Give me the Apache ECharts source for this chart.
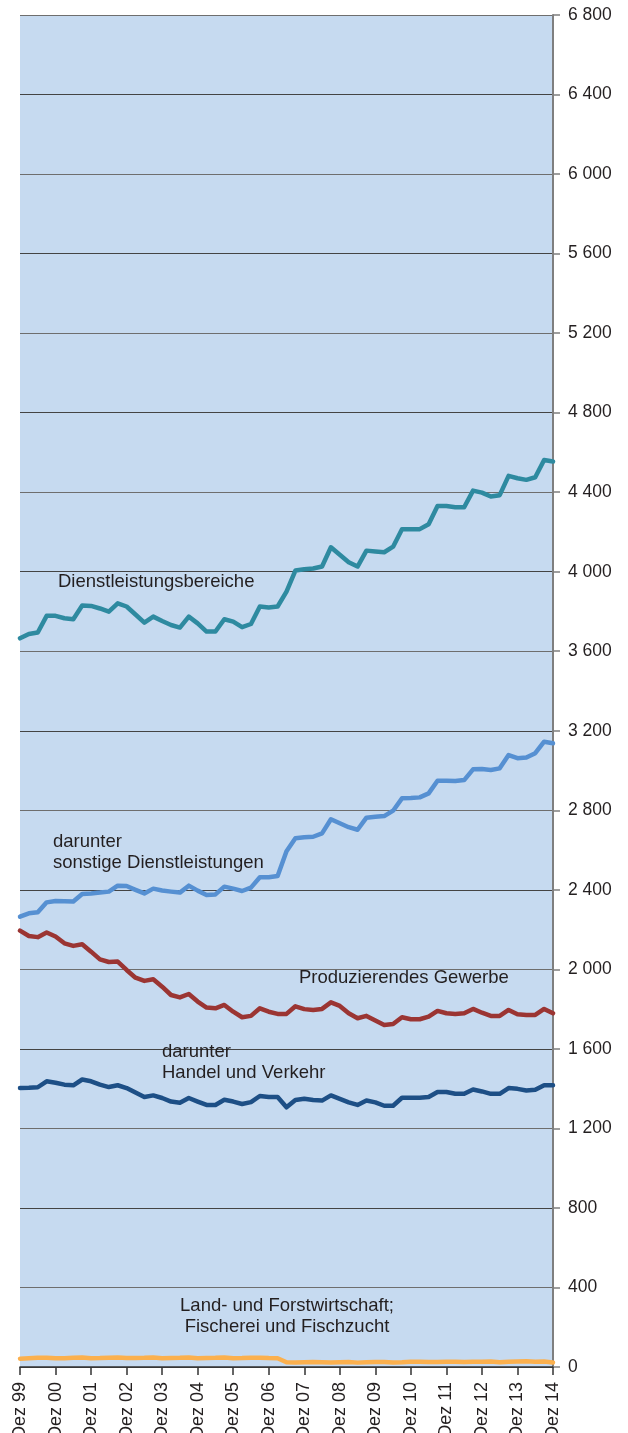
<!DOCTYPE html>
<html>
<head>
	<meta charset="utf-8">
	<title>Erwerbstätige nach Wirtschaftsbereichen</title>
	<script src="https://cdn.jsdelivr.net/npm/echarts@6/dist/echarts.min.js"></script>
	<style>
		html, body { margin: 0; padding: 0; background: #fff; }
		#main { width: 628px; height: 1433px; }
	</style>
</head>
<body>
	<div id="main"></div>
	<script>
		// Quartale Dez 99 bis Dez 14
		var categories = [
			'Dez 99', 'Mär 00', 'Jun 00', 'Sep 00', 'Dez 00', 'Mär 01', 'Jun 01', 'Sep 01', 'Dez 01',
			'Mär 02', 'Jun 02', 'Sep 02', 'Dez 02', 'Mär 03', 'Jun 03', 'Sep 03', 'Dez 03',
			'Mär 04', 'Jun 04', 'Sep 04', 'Dez 04', 'Mär 05', 'Jun 05', 'Sep 05', 'Dez 05',
			'Mär 06', 'Jun 06', 'Sep 06', 'Dez 06', 'Mär 07', 'Jun 07', 'Sep 07', 'Dez 07',
			'Mär 08', 'Jun 08', 'Sep 08', 'Dez 08', 'Mär 09', 'Jun 09', 'Sep 09', 'Dez 09',
			'Mär 10', 'Jun 10', 'Sep 10', 'Dez 10', 'Mär 11', 'Jun 11', 'Sep 11', 'Dez 11',
			'Mär 12', 'Jun 12', 'Sep 12', 'Dez 12', 'Mär 13', 'Jun 13', 'Sep 13', 'Dez 13',
			'Mär 14', 'Jun 14', 'Sep 14', 'Dez 14'
		];

		var dienstleistungen = [
			3665, 3687, 3694, 3778, 3778, 3766, 3761, 3830, 3828, 3815,
			3799, 3841, 3825, 3785, 3744, 3774, 3752, 3732, 3719, 3774,
			3740, 3699, 3699, 3761, 3749, 3721, 3737, 3825, 3820, 3825,
			3900, 4006, 4012, 4016, 4026, 4123, 4085, 4048, 4026, 4106,
			4102, 4098, 4126, 4214, 4214, 4214, 4239, 4331, 4330, 4324,
			4324, 4408, 4398, 4378, 4385, 4482, 4470, 4462, 4475, 4562, 4554
		];

		var sonstigeDienste = [
			2265, 2282, 2287, 2337, 2344, 2343, 2341, 2379, 2382, 2386,
			2391, 2421, 2419, 2400, 2382, 2406, 2397, 2391, 2386, 2421,
			2396, 2374, 2377, 2416, 2406, 2394, 2411, 2463, 2463, 2470,
			2594, 2659, 2664, 2667, 2684, 2755, 2735, 2715, 2702, 2763,
			2767, 2771, 2798, 2860, 2862, 2865, 2885, 2949, 2948, 2947,
			2952, 3006, 3008, 3003, 3011, 3078, 3062, 3065, 3087, 3145, 3137
		];

		var produzierendes = [
			2195, 2168, 2162, 2185, 2165, 2131, 2118, 2126, 2089, 2050,
			2037, 2039, 1997, 1958, 1942, 1950, 1913, 1871, 1859, 1876,
			1838, 1808, 1804, 1821, 1787, 1759, 1766, 1804, 1787, 1776,
			1776, 1814, 1800, 1796, 1801, 1834, 1816, 1779, 1754, 1766,
			1743, 1720, 1725, 1759, 1749, 1749, 1762, 1791, 1779, 1776,
			1779, 1801, 1782, 1766, 1766, 1796, 1774, 1771, 1771, 1801, 1779
		];

		var handelVerkehr = [
			1403, 1404, 1407, 1437, 1430, 1420, 1417, 1446, 1437, 1420,
			1408, 1417, 1403, 1380, 1358, 1366, 1353, 1335, 1329, 1353,
			1335, 1318, 1318, 1344, 1335, 1323, 1332, 1363, 1358, 1358,
			1306, 1343, 1349, 1343, 1340, 1366, 1349, 1331, 1318, 1340,
			1331, 1314, 1314, 1354, 1354, 1354, 1358, 1383, 1383, 1374,
			1374, 1396, 1386, 1374, 1374, 1403, 1399, 1391, 1394, 1417, 1417
		];

		var landForst = [
			42, 44, 46, 47, 44, 44, 46, 48, 44, 45,
			47, 48, 45, 45, 46, 48, 44, 45, 46, 48,
			44, 45, 46, 48, 44, 45, 47, 47, 45, 44,
			24, 23, 24, 25, 24, 23, 24, 25, 22, 24,
			25, 25, 23, 24, 26, 27, 25, 25, 26, 27,
			25, 26, 27, 28, 24, 27, 28, 29, 27, 28, 23
		];

		var yTicks = { min: 0, max: 6800, step: 400 };

		var fontName = 'Liberation Sans, Arial, sans-serif';
		var textColor = '#231f20';

		var myChart = echarts.init(document.getElementById('main'));

		function lineSeries(name, data, color, z) {
			return {
				name: name,
				type: 'line',
				data: data,
				showSymbol: false,
				symbol: 'none',
				z: z,
				lineStyle: { color: color, width: 4.5, join: 'round', cap: 'round' }
			};
		}

		function note(x, y, text, align) {
			return {
				type: 'text',
				x: x,
				y: y,
				z: 100,
				style: {
					text: text,
					fill: textColor,
					font: '18.5px ' + fontName,
					align: align || 'left',
					verticalAlign: 'middle',
					lineHeight: 21
				}
			};
		}

		var option = {
			backgroundColor: '#ffffff',
			animation: false,
			grid: {
				left: 20,
				right: 75,
				top: 15,
				bottom: 66,
				containLabel: false,
				outerBoundsMode: 'none',
				show: true,
				backgroundColor: '#c6daf0',
				borderWidth: 0
			},
			xAxis: {
				type: 'category',
				data: categories,
				boundaryGap: false,
				axisLine: { show: true, lineStyle: { color: '#333', width: 1.5 } },
				axisTick: { show: true, interval: 3, length: 8, lineStyle: { color: '#333', width: 1.5 } },
				axisLabel: {
					interval: 3,
					rotate: 90,
					margin: 15,
					color: textColor,
					fontSize: 18,
					fontFamily: fontName
				},
				splitLine: { show: false }
			},
			yAxis: {
				type: 'value',
				position: 'right',
				min: yTicks.min,
				max: yTicks.max,
				interval: yTicks.step,
				axisLine: { show: true, lineStyle: { color: '#7f7f7f', width: 2 } },
				axisTick: { show: true, length: 7, lineStyle: { color: '#7f7f7f', width: 1.5 } },
				axisLabel: {
					margin: 15,
					color: textColor,
					fontSize: 17.5,
					fontFamily: fontName,
					formatter: function (v) {
						return String(v).replace(/\B(?=(\d{3})+(?!\d))/g, ' ');
					}
				},
				splitLine: { show: true, lineStyle: { color: ['#444', '#6e6e6e'], width: 1.2 } }
			},
			series: [
				lineSeries('Land- und Forstwirtschaft; Fischerei und Fischzucht', landForst, '#fbb04e', 2),
				lineSeries('darunter Handel und Verkehr', handelVerkehr, '#1d4f86', 3),
				lineSeries('Produzierendes Gewerbe', produzierendes, '#9b3533', 4),
				lineSeries('darunter sonstige Dienstleistungen', sonstigeDienste, '#5690d2', 5),
				lineSeries('Dienstleistungsbereiche', dienstleistungen, '#2e8aa0', 6)
			],
			graphic: [
				note(58, 582, 'Dienstleistungsbereiche'),
				note(53, 852, 'darunter\nsonstige Dienstleistungen'),
				note(299, 978, 'Produzierendes Gewerbe'),
				note(162, 1062, 'darunter\nHandel und Verkehr'),
				note(287, 1316, 'Land- und Forstwirtschaft;\nFischerei und Fischzucht', 'center')
			]
		};

		myChart.setOption(option);
	</script>
</body>
</html>
